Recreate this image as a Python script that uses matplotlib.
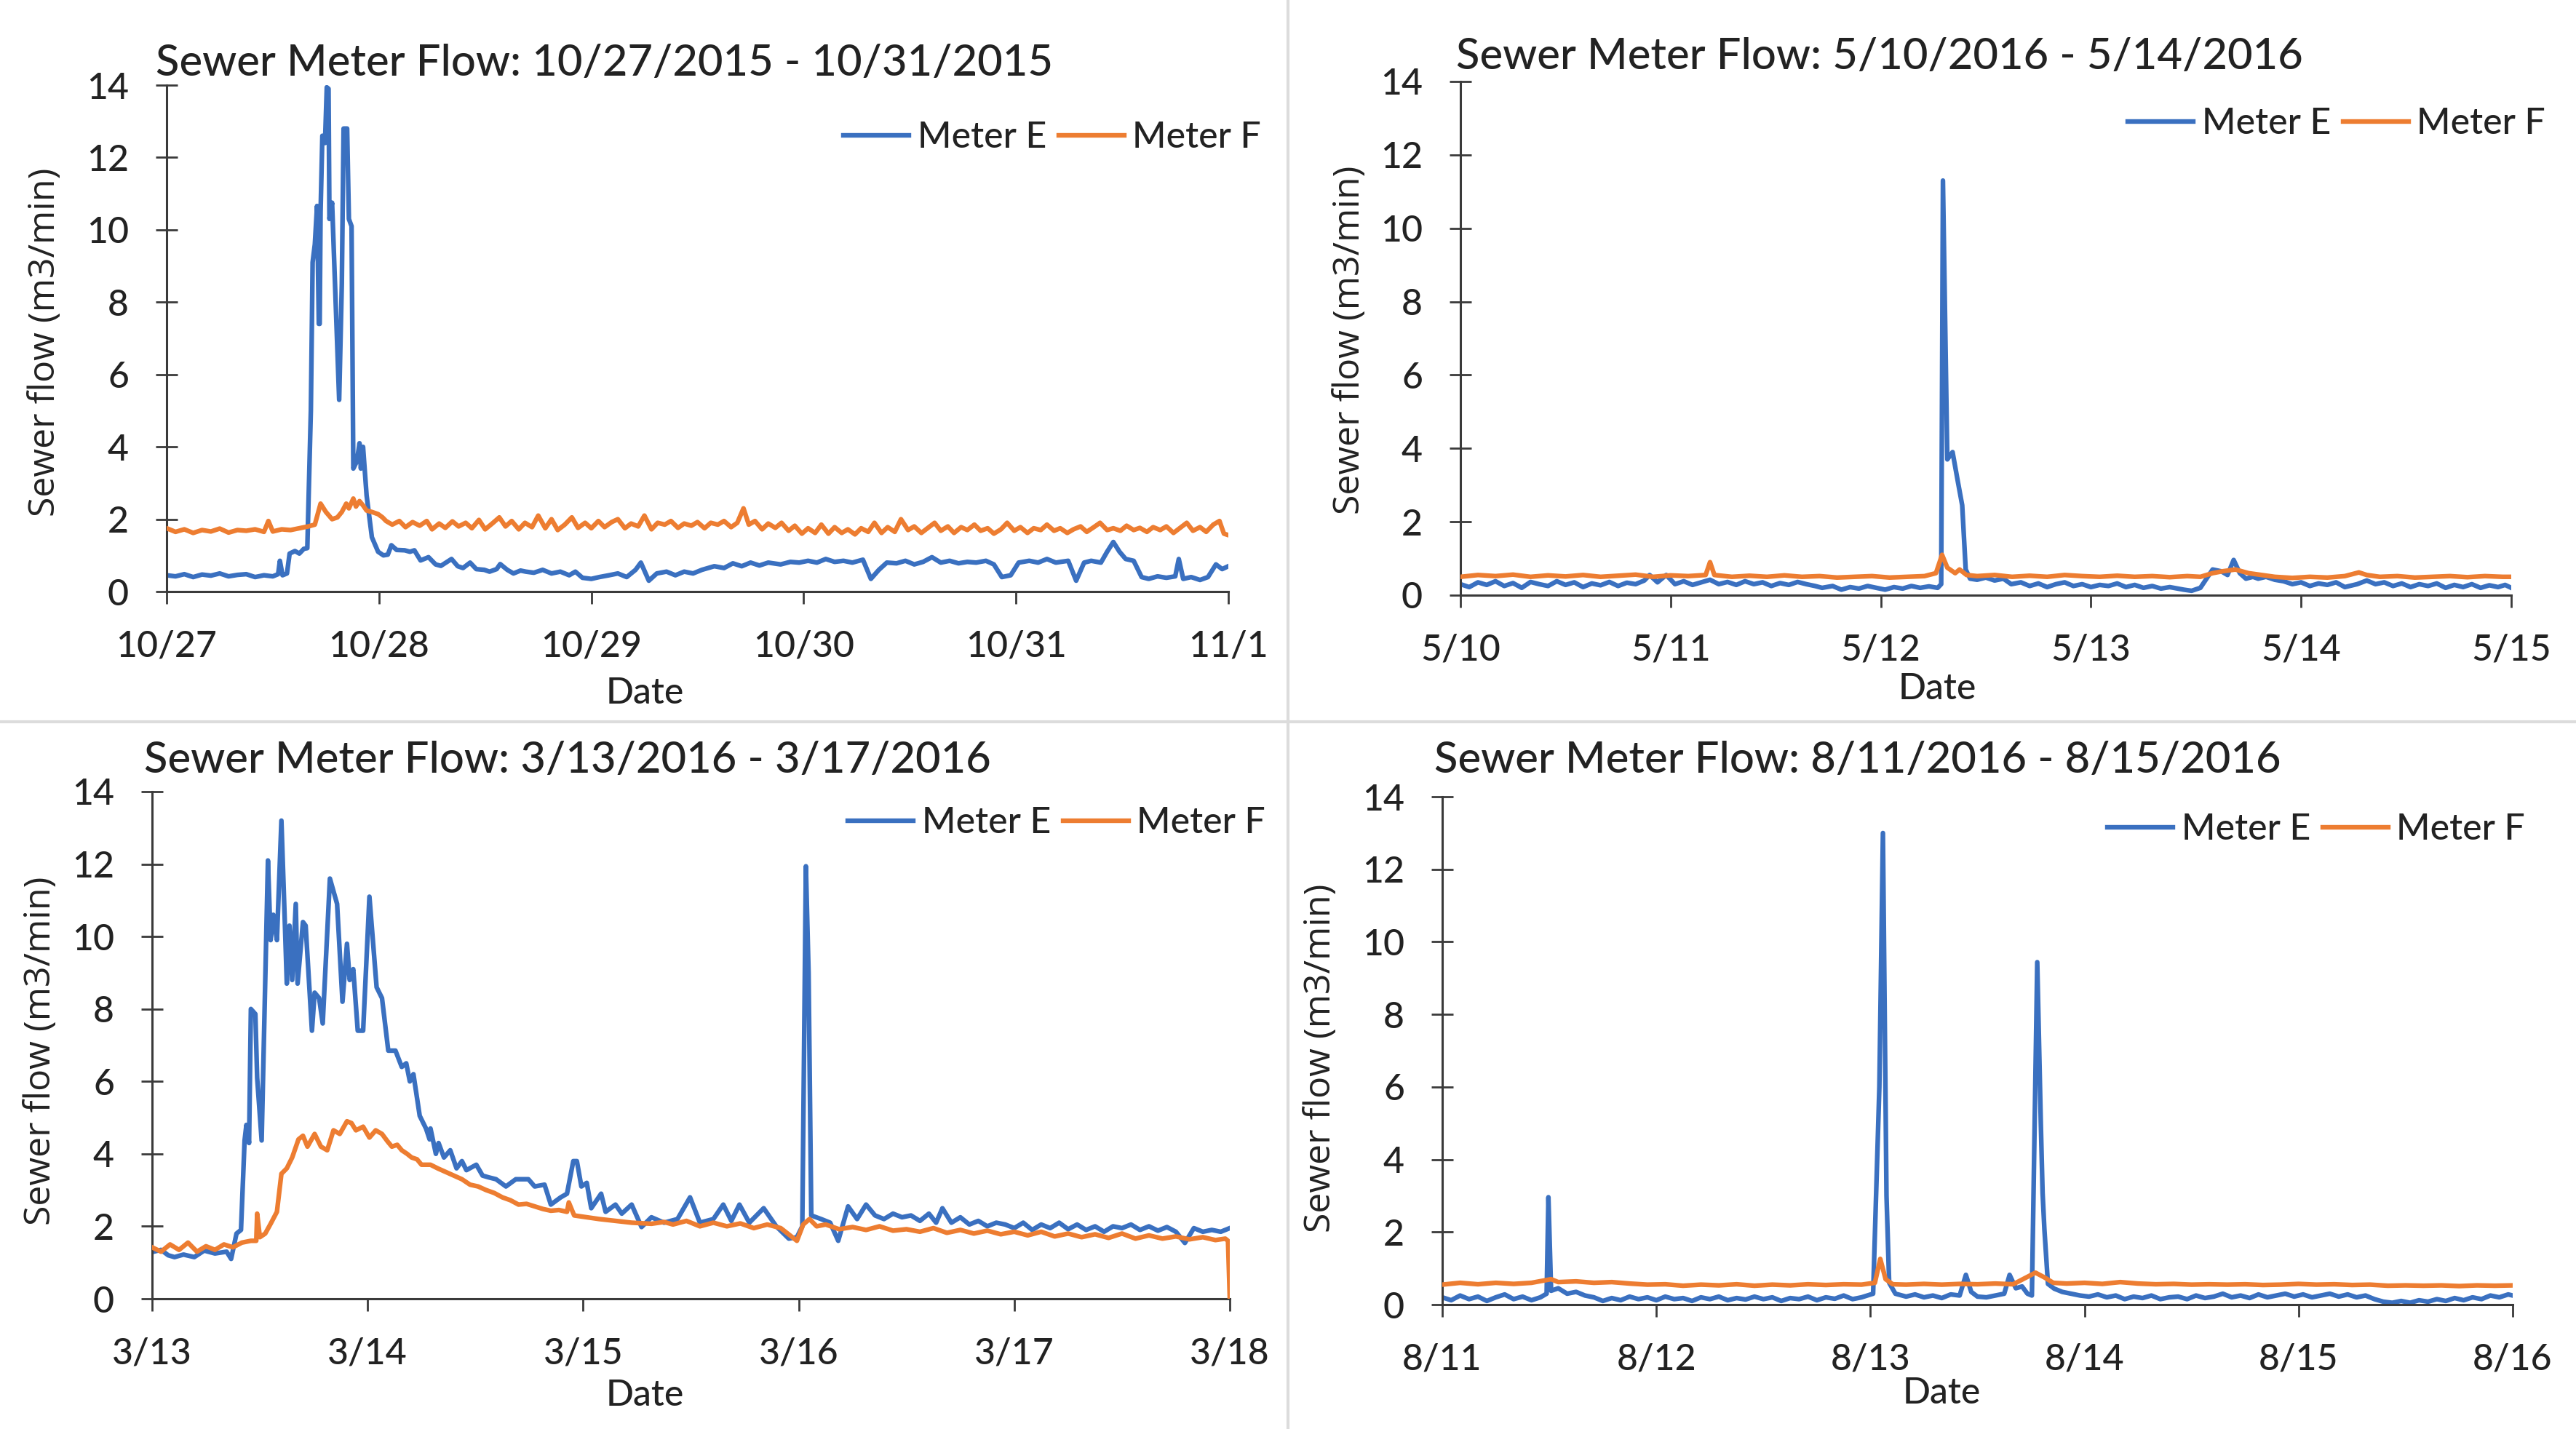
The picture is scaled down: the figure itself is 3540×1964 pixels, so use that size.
import matplotlib
matplotlib.use("Agg")
import matplotlib.pyplot as plt
from matplotlib.lines import Line2D

# ---------------- DATA (hours from start of window, flow m3/min) ----------------
titles = ["Sewer Meter Flow: 10/27/2015 - 10/31/2015",
          "Sewer Meter Flow: 5/10/2016 - 5/14/2016",
          "Sewer Meter Flow: 3/13/2016 - 3/17/2016",
          "Sewer Meter Flow: 8/11/2016 - 8/15/2016"]
xticklabels = [["10/27", "10/28", "10/29", "10/30", "10/31", "11/1"],
               ["5/10", "5/11", "5/12", "5/13", "5/14", "5/15"],
               ["3/13", "3/14", "3/15", "3/16", "3/17", "3/18"],
               ["8/11", "8/12", "8/13", "8/14", "8/15", "8/16"]]
xtick_hours = [0, 24, 48, 72, 96, 120]
yticks = [0, 2, 4, 6, 8, 10, 12, 14]
series_names = ["Meter E", "Meter F"]

# Panel 1: 10/27 - 10/31/2015
p1_t_e = [0, 1, 2, 3, 4, 5, 6, 7, 8, 9, 10, 11, 12, 12.6, 12.8, 13.1, 13.6, 13.9, 14.5, 15.0, 15.5, 15.9,
          16.3, 16.5, 16.75, 17.0, 17.2, 17.3, 17.4, 17.6, 17.9, 18.1, 18.3, 18.4, 18.7, 19.1, 19.5, 19.8,
          20.0, 20.4, 20.6, 20.9, 21.1, 21.5, 21.8, 21.95, 22.2, 22.6, 23.2, 23.9, 24.5, 25.0, 25.4, 26.0,
          26.9, 27.5, 28.0, 28.7, 29.6, 30.4, 31.0, 32.2, 32.9, 33.5, 34.3, 35.0, 35.9, 36.5, 37.3, 37.7,
          38.5, 39.2, 40.0, 40.6, 41.5, 42.5, 43.5, 44.5, 45.5, 46.2, 47.0, 48.0, 48.9, 50, 51, 52, 53,
          53.6, 54.5, 55.4, 56.5, 57.5, 58.5, 59.5, 60.5, 61.9, 63, 64, 65, 66, 67, 68, 69.4, 70.5, 71.5,
          72.5, 73.5, 74.5, 75.5, 76.5, 77.5, 78.7, 79.6, 80.5, 81.4, 82.5, 83.5, 84.5, 85.5, 86.5, 87.5,
          88.5, 89.5, 90.5, 91.5, 92.6, 93.5, 94.4, 95.4, 96.3, 97.5, 98.5, 99.5, 100.5, 101.9, 102.8,
          103.7, 104.5, 105.6, 106.3, 107.0, 107.7, 108.4, 109.3, 110.2, 111, 112, 113, 114.0, 114.4,
          114.9, 115.8, 116.8, 117.7, 118.6, 119.3, 120]
p1_e = [0.45, 0.42, 0.48, 0.40, 0.47, 0.44, 0.50, 0.42, 0.46, 0.48, 0.40, 0.45, 0.42, 0.48, 0.85, 0.45,
        0.50, 1.05, 1.12, 1.05, 1.18, 1.20, 5.0, 9.1, 9.6, 10.66, 7.4, 7.4, 10.5, 12.6, 12.4, 13.94, 13.9,
        10.3, 10.75, 8.0, 5.3, 8.5, 12.8, 12.8, 10.3, 10.1, 3.4, 3.6, 4.1, 3.4, 4.0, 2.66, 1.5, 1.1, 1.0,
        1.02, 1.28, 1.15, 1.14, 1.10, 1.14, 0.86, 0.95, 0.75, 0.71, 0.90, 0.70, 0.65, 0.80, 0.62, 0.60,
        0.55, 0.62, 0.76, 0.60, 0.50, 0.58, 0.55, 0.52, 0.60, 0.50, 0.55, 0.45, 0.55, 0.38, 0.35, 0.40,
        0.45, 0.50, 0.40, 0.60, 0.80, 0.30, 0.50, 0.55, 0.45, 0.55, 0.50, 0.60, 0.70, 0.65, 0.78, 0.70,
        0.80, 0.72, 0.80, 0.75, 0.82, 0.80, 0.85, 0.80, 0.90, 0.82, 0.85, 0.80, 0.88, 0.35, 0.60, 0.80,
        0.78, 0.85, 0.75, 0.82, 0.95, 0.80, 0.85, 0.78, 0.82, 0.80, 0.85, 0.75, 0.40, 0.45, 0.80, 0.85,
        0.80, 0.90, 0.80, 0.85, 0.30, 0.80, 0.85, 0.80, 1.10, 1.37, 1.10, 0.90, 0.85, 0.40, 0.35, 0.42,
        0.38, 0.42, 0.90, 0.35, 0.40, 0.32, 0.40, 0.75, 0.62, 0.70]
p1_t_f = [0, 1, 2, 3, 4, 5, 6, 7, 8, 9, 10, 11, 11.5, 12, 13, 14, 15, 16, 16.75, 17.4, 18, 18.7, 19.3,
          19.8, 20.3, 20.6, 21.1, 21.4, 21.8, 22.2, 22.6, 23.2, 23.9, 24.4, 24.8, 25.5, 26.3, 27, 27.8,
          28.6, 29.4, 30, 30.8, 31.5, 32.3, 33, 33.8, 34.5, 35.3, 36, 36.8, 37.6, 38.3, 39, 39.8, 40.5,
          41.3, 42, 42.8, 43.5, 44.2, 45, 45.8, 46.5, 47.3, 48, 48.8, 49.5, 50.3, 51, 51.8, 52.5, 53.3,
          54, 54.8, 55.5, 56.3, 57, 57.8, 58.5, 59.3, 60, 60.8, 61.5, 62.3, 63, 63.8, 64.5, 65.2, 65.8,
          66.5, 67.3, 68, 68.8, 69.5, 70.3, 71, 71.8, 72.5, 73.3, 74, 74.8, 75.5, 76.3, 77, 77.8, 78.5,
          79.3, 80, 80.8, 81.5, 82.3, 83, 83.8, 84.5, 85.3, 86, 86.8, 87.5, 88.3, 89, 89.8, 90.5, 91.3,
          92, 92.8, 93.5, 94.3, 95, 95.8, 96.5, 97.3, 98, 98.8, 99.5, 100.3, 101, 101.8, 102.5, 103.3,
          104, 104.8, 105.5, 106.3, 107, 107.8, 108.5, 109.3, 110, 110.8, 111.5, 112.3, 113, 113.8,
          114.5, 115.3, 116, 116.8, 117.5, 118.3, 119, 119.5, 120]
p1_f = [1.75, 1.65, 1.72, 1.62, 1.70, 1.66, 1.74, 1.63, 1.70, 1.68, 1.72, 1.65, 1.95, 1.66, 1.72, 1.70,
        1.75, 1.80, 1.85, 2.43, 2.20, 2.00, 2.05, 2.20, 2.43, 2.30, 2.57, 2.35, 2.50, 2.38, 2.24, 2.20,
        2.14, 2.05, 1.95, 1.85, 1.95, 1.78, 1.92, 1.82, 1.95, 1.72, 1.88, 1.76, 1.94, 1.80, 1.90, 1.75,
        1.98, 1.72, 1.88, 2.05, 1.80, 1.95, 1.72, 1.90, 1.78, 2.10, 1.75, 2.00, 1.70, 1.85, 2.05, 1.76,
        1.90, 1.75, 1.95, 1.78, 1.92, 2.00, 1.75, 1.88, 1.80, 2.10, 1.72, 1.90, 1.85, 1.95, 1.76, 1.88,
        1.82, 1.92, 1.75, 1.90, 1.85, 1.95, 1.78, 1.90, 2.30, 1.85, 1.95, 1.72, 1.88, 1.76, 1.90, 1.68,
        1.82, 1.60, 1.75, 1.62, 1.85, 1.60, 1.78, 1.62, 1.72, 1.58, 1.75, 1.65, 1.90, 1.62, 1.78, 1.65,
        2.00, 1.70, 1.80, 1.62, 1.75, 1.90, 1.68, 1.80, 1.62, 1.78, 1.70, 1.85, 1.68, 1.75, 1.60, 1.72,
        1.90, 1.68, 1.78, 1.62, 1.75, 1.70, 1.85, 1.68, 1.75, 1.62, 1.72, 1.80, 1.65, 1.78, 1.90, 1.70,
        1.75, 1.68, 1.82, 1.70, 1.76, 1.65, 1.78, 1.70, 1.80, 1.62, 1.75, 1.90, 1.68, 1.78, 1.65, 1.85,
        1.95, 1.60, 1.56]

# Panel 2: 5/10 - 5/14/2016
p2_t_e = [0, 1, 2, 3, 4, 5, 6, 7, 8, 9, 10, 11, 12, 13, 14, 15, 16, 17, 18, 19, 20, 21, 21.6, 22.5,
          23.5, 24.5, 25.5, 26.5, 27.5, 28.5, 29.5, 30.5, 31.5, 32.5, 33.5, 34.5, 35.5, 36.5, 37.5, 38.5,
          39.5, 40.5, 41.3, 42.5, 43.5, 44.5, 45.5, 46.5, 47.5, 48.5, 49.5, 50.5, 51.5, 52.5, 53.5, 54.5,
          54.9, 55.1, 55.6, 56.2, 56.8, 57.3, 57.7, 58.2, 59, 60, 61, 62, 62.9, 64, 65, 66, 67, 68, 69, 70,
          71, 72, 73, 74, 75, 76, 77, 78, 79, 80, 81, 82.6, 83.5, 84.5, 85.2, 85.9, 86.9, 87.6, 88.3, 89,
          89.7, 90.5, 91.1, 92, 93, 94, 95, 96, 97, 98, 99, 100, 101, 102.4, 103.5, 104.5, 105.5, 106.5,
          107.5, 108.5, 109.5, 110.5, 111.5, 112.5, 113.5, 114.5, 115.5, 116.5, 117.5, 118.5, 119.3, 120]
p2_e = [0.30, 0.22, 0.35, 0.28, 0.38, 0.25, 0.33, 0.20, 0.36, 0.30, 0.25, 0.38, 0.28, 0.35, 0.22, 0.32,
        0.27, 0.36, 0.25, 0.34, 0.30, 0.40, 0.55, 0.35, 0.55, 0.30, 0.38, 0.28, 0.35, 0.42, 0.30, 0.36,
        0.28, 0.38, 0.30, 0.35, 0.25, 0.33, 0.28, 0.36, 0.30, 0.25, 0.20, 0.25, 0.15, 0.22, 0.18, 0.25,
        0.20, 0.15, 0.22, 0.18, 0.25, 0.20, 0.24, 0.20, 0.30, 11.3, 3.7, 3.9, 3.1, 2.45, 0.70, 0.45, 0.42,
        0.48, 0.40, 0.45, 0.30, 0.35, 0.25, 0.32, 0.22, 0.30, 0.35, 0.25, 0.30, 0.22, 0.28, 0.25, 0.32,
        0.22, 0.28, 0.20, 0.25, 0.18, 0.22, 0.15, 0.12, 0.20, 0.45, 0.70, 0.65, 0.55, 0.96, 0.60, 0.45,
        0.50, 0.45, 0.50, 0.42, 0.38, 0.30, 0.35, 0.25, 0.32, 0.28, 0.35, 0.22, 0.30, 0.40, 0.30, 0.35,
        0.25, 0.32, 0.22, 0.30, 0.25, 0.32, 0.20, 0.28, 0.22, 0.30, 0.20, 0.27, 0.22, 0.28, 0.20]
p2_t_f = [0, 2, 4, 6, 8, 10, 12, 14, 16, 18, 20, 22, 24, 26, 28, 28.5, 29, 31, 33, 35, 37, 39, 41, 43,
          45, 47, 49, 51, 53, 54.3, 55.0, 55.6, 56.5, 57, 57.8, 59, 61, 63, 65, 67, 69, 71, 73, 75, 77,
          79, 81, 83, 84.5, 85.9, 87, 88.5, 90, 91.5, 93, 95, 97, 99, 101, 102.6, 103.5, 105, 107, 109,
          111, 113, 115, 117, 119, 120]
p2_f = [0.50, 0.55, 0.52, 0.56, 0.50, 0.54, 0.51, 0.55, 0.50, 0.53, 0.56, 0.50, 0.54, 0.52, 0.55, 0.90,
        0.55, 0.50, 0.53, 0.50, 0.54, 0.50, 0.52, 0.48, 0.50, 0.52, 0.48, 0.50, 0.52, 0.60, 1.10, 0.75,
        0.60, 0.70, 0.55, 0.52, 0.55, 0.50, 0.53, 0.50, 0.55, 0.52, 0.50, 0.53, 0.50, 0.52, 0.49, 0.52,
        0.50, 0.60, 0.65, 0.70, 0.60, 0.55, 0.50, 0.47, 0.50, 0.48, 0.52, 0.62, 0.55, 0.50, 0.52, 0.48,
        0.50, 0.52, 0.49, 0.52, 0.50, 0.50]

# Panel 3: 3/13 - 3/17/2016
p3_t_e = [0, 1, 1.8, 2.5, 3.5, 4.7, 5.8, 7, 8.3, 8.8, 9.4, 9.9, 10.3, 10.5, 10.8, 11.0, 11.5, 11.7, 12.2,
          12.9, 13.2, 13.5, 13.9, 14.4, 14.8, 15.0, 15.3, 15.6, 16.0, 16.2, 16.8, 17.1, 17.8, 18.1, 18.6,
          19.0, 19.8, 20.6, 21.2, 21.7, 22.0, 22.4, 22.9, 23.5, 24.2, 25.0, 25.6, 26.3, 27.1, 27.8, 28.3,
          28.7, 29.1, 29.8, 30.5, 30.9, 31.0, 31.6, 31.9, 32.5, 33.2, 33.9, 34.5, 35.0, 36.1, 36.8, 37.5,
          38.3, 39.4, 40.5, 41.9, 42.6, 43.7, 44.4, 45.5, 46.2, 46.9, 47.3, 47.8, 48.4, 48.9, 50.0, 50.5,
          51.6, 52.3, 53.4, 54.5, 55.6, 57, 58.5, 59.9, 61, 62.5, 63.6, 64.5, 65.4, 66.5, 68.1, 69.5,
          70.9, 71.8, 72.4, 72.8, 73.1, 73.4, 74.5, 75.5, 76.4, 77.5, 78.5, 79.5, 80.5, 81.5, 82.5, 83.5,
          84.5, 85.5, 86.5, 87.3, 88, 89, 90, 91, 92, 93, 94, 95, 96, 97, 98, 99, 100, 101, 102, 103,
          104, 105, 106, 107, 108, 109, 110, 111, 112, 113, 114, 115, 116, 117, 118, 119, 120]
p3_e = [1.29, 1.35, 1.20, 1.15, 1.22, 1.15, 1.33, 1.25, 1.30, 1.10, 1.80, 1.90, 4.37, 4.80, 4.30, 8.0,
        7.86, 6.1, 4.37, 12.1, 9.9, 10.6, 9.9, 13.2, 10.25, 8.7, 10.3, 8.8, 10.9, 8.7, 10.4, 10.3, 7.4,
        8.45, 8.3, 7.6, 11.6, 10.9, 8.2, 9.8, 8.8, 9.1, 7.4, 7.4, 11.1, 8.6, 8.3, 6.85, 6.85, 6.4, 6.5,
        6.0, 6.2, 5.05, 4.7, 4.4, 4.7, 4.0, 4.3, 3.9, 4.1, 3.6, 3.8, 3.55, 3.7, 3.4, 3.35, 3.3, 3.1, 3.3,
        3.3, 3.1, 3.15, 2.6, 2.8, 2.9, 3.8, 3.8, 3.1, 3.2, 2.5, 2.9, 2.4, 2.6, 2.35, 2.6, 1.98, 2.25, 2.1,
        2.2, 2.8, 2.1, 2.2, 2.6, 2.15, 2.6, 2.1, 2.5, 2.0, 1.66, 1.7, 2.0, 11.94, 9.0, 2.3, 2.2, 2.1,
        1.6, 2.55, 2.2, 2.6, 2.3, 2.2, 2.35, 2.25, 2.3, 2.15, 2.35, 2.1, 2.5, 2.1, 2.25, 2.05, 2.15, 2.0,
        2.1, 2.05, 1.95, 2.1, 1.9, 2.05, 1.95, 2.1, 1.92, 2.05, 1.9, 2.0, 1.85, 2.0, 1.95, 2.05, 1.9,
        2.0, 1.88, 1.98, 1.85, 1.54, 1.95, 1.85, 1.9, 1.85, 1.95]
p3_t_f = [0, 1, 2, 3, 4, 5, 6, 7, 8, 9, 10, 11, 11.6, 11.7, 12, 12.6, 13.2, 13.9, 14.4, 15.0, 15.6, 16.3,
          16.8, 17.3, 18.1, 18.8, 19.5, 20.2, 20.9, 21.7, 22.2, 22.7, 23.5, 24.2, 24.9, 25.6, 26.2, 26.7,
          27.3, 27.8, 28.4, 28.9, 29.5, 30.0, 31.0, 31.8, 32.7, 33.6, 34.5, 35.4, 36.3, 37.2, 38.1, 39.0,
          39.9, 40.8, 41.7, 42.6, 43.5, 44.4, 45.3, 46.2, 46.4, 47, 48.4, 49.8, 51.6, 53.4, 55.6, 57,
          58, 59.5, 61, 62.5, 64, 65.5, 67, 68.5, 70, 71.8, 72.5, 73.2, 74, 75, 76.5, 78, 79.5, 81, 82.5,
          84, 85.5, 87, 88.5, 90, 91.5, 93, 94.5, 96, 97.5, 99, 100.5, 102, 103.5, 105, 106.5, 108, 109.5,
          111, 112.5, 114, 115.5, 117, 118.4, 119.5, 119.8, 120]
p3_f = [1.42, 1.30, 1.50, 1.35, 1.55, 1.30, 1.45, 1.35, 1.50, 1.42, 1.55, 1.60, 1.60, 2.35, 1.70, 1.80,
        2.07, 2.40, 3.45, 3.60, 3.90, 4.40, 4.50, 4.20, 4.55, 4.20, 4.10, 4.65, 4.55, 4.90, 4.85, 4.65,
        4.75, 4.45, 4.65, 4.55, 4.35, 4.20, 4.25, 4.10, 4.00, 3.90, 3.85, 3.70, 3.70, 3.60, 3.50, 3.40,
        3.30, 3.15, 3.10, 3.00, 2.92, 2.80, 2.72, 2.60, 2.62, 2.55, 2.48, 2.43, 2.45, 2.40, 2.66, 2.30,
        2.25, 2.20, 2.15, 2.10, 2.07, 2.12, 2.05, 2.15, 2.00, 2.10, 2.00, 2.08, 1.95, 2.05, 1.95, 1.60,
        2.05, 2.20, 2.00, 2.05, 1.92, 1.98, 1.90, 2.00, 1.88, 1.92, 1.85, 1.95, 1.82, 1.90, 1.80, 1.88,
        1.78, 1.85, 1.75, 1.85, 1.72, 1.80, 1.70, 1.78, 1.68, 1.80, 1.66, 1.75, 1.66, 1.72, 1.64, 1.70,
        1.62, 1.66, 1.60, 0.0]

# Panel 4: 8/11 - 8/15/2016
p4_t_e = [0, 1, 2, 3, 4, 5, 6, 7, 8, 9, 10, 11, 11.7, 11.9, 12.2, 13, 14, 15, 16, 17, 18, 19, 20, 21,
          22, 23, 24, 25, 26, 27, 28, 29, 30, 31, 32, 33, 34, 35, 36, 37, 38, 39, 40, 41, 42, 43, 44,
          45, 46, 47, 48.3, 49.0, 49.4, 49.8, 50.1, 50.8, 52, 53, 54, 55, 56, 57, 58, 58.7, 59.3, 60,
          61, 62, 63, 63.6, 64.3, 65, 65.6, 66.1, 66.7, 67.1, 67.3, 67.5, 67.9, 68.6, 69.5, 70.5, 71.5,
          72.5, 73.5, 74.5, 75.5, 76.5, 77.5, 78.5, 79.5, 80.5, 81.5, 82.5, 83.5, 84.5, 85.5, 86.5, 87.5,
          88.5, 89.5, 90.5, 91.5, 92.5, 93.5, 94.5, 95.5, 96.5, 97.5, 98.5, 99.5, 100.5, 101.5, 102.5,
          103.5, 104.5, 105.5, 106.5, 107.5, 108.5, 109.5, 110.5, 111.5, 112.5, 113.5, 114.5, 115.5,
          116.5, 117.5, 118.5, 119.5, 120]
p4_e = [0.20, 0.12, 0.25, 0.15, 0.22, 0.10, 0.20, 0.28, 0.15, 0.22, 0.12, 0.20, 0.30, 2.96, 0.38, 0.45,
        0.30, 0.35, 0.25, 0.20, 0.10, 0.18, 0.12, 0.22, 0.15, 0.20, 0.12, 0.22, 0.15, 0.18, 0.10, 0.20,
        0.15, 0.22, 0.12, 0.18, 0.14, 0.22, 0.15, 0.20, 0.10, 0.18, 0.15, 0.22, 0.12, 0.20, 0.16, 0.25,
        0.15, 0.20, 0.30, 6.0, 13.0, 3.0, 0.60, 0.30, 0.22, 0.28, 0.20, 0.25, 0.18, 0.28, 0.25, 0.82,
        0.35, 0.22, 0.20, 0.25, 0.30, 0.82, 0.45, 0.50, 0.30, 0.25, 9.44, 5.0, 3.08, 2.08, 0.57, 0.44,
        0.35, 0.30, 0.25, 0.22, 0.28, 0.20, 0.25, 0.15, 0.22, 0.18, 0.25, 0.15, 0.20, 0.22, 0.15, 0.25,
        0.18, 0.22, 0.30, 0.20, 0.25, 0.18, 0.28, 0.20, 0.25, 0.30, 0.22, 0.28, 0.20, 0.25, 0.30, 0.22,
        0.28, 0.20, 0.25, 0.15, 0.08, 0.05, 0.10, 0.05, 0.12, 0.08, 0.15, 0.10, 0.18, 0.12, 0.20, 0.15,
        0.25, 0.20, 0.28, 0.25]
p4_t_f = [0, 2, 4, 6, 8, 10, 12.2, 13, 15, 17, 19, 21, 23, 25, 27, 29, 31, 33, 35, 37, 39, 41, 43, 45,
          47, 48.5, 49.1, 49.7, 50.5, 52, 54, 56, 58, 60, 62, 64, 66.5, 67.5, 68.5, 70, 72, 74, 76, 78,
          80, 82, 84, 86, 88, 90, 92, 94, 96, 98, 100, 102, 104, 106, 108, 110, 112, 114, 116, 118, 120]
p4_f = [0.55, 0.60, 0.56, 0.60, 0.57, 0.60, 0.70, 0.62, 0.64, 0.60, 0.62, 0.58, 0.55, 0.56, 0.52, 0.55,
        0.53, 0.56, 0.52, 0.55, 0.53, 0.56, 0.54, 0.56, 0.55, 0.60, 1.26, 0.70, 0.56, 0.55, 0.57, 0.55,
        0.57, 0.56, 0.58, 0.56, 0.88, 0.75, 0.60, 0.58, 0.60, 0.57, 0.62, 0.58, 0.56, 0.57, 0.55, 0.56,
        0.55, 0.56, 0.54, 0.55, 0.57, 0.55, 0.56, 0.54, 0.55, 0.52, 0.53, 0.52, 0.53, 0.51, 0.53, 0.52,
        0.53]

# ---------------- STYLE / LAYOUT ----------------
W, H = 3541, 1964
DPI = 100
BLUE = "#3A70C0"
ORANGE = "#ED7D31"
TXT = "#222222"
AXC = "#3A3A3A"
NARROW = ["Lato", "DejaVu Sans"]
WIDE = ["Open Sans", "DejaVu Sans"]
LW = 4.6

def fx(px):
    return px / W

def fy(py):
    return 1 - py / H

# axes rectangles in pixels: (left, right, y_of_0, y_of_14)
axes_px = [(229, 1688, 813, 117), (2007, 3451, 818, 112),
           (209, 1690, 1785, 1088), (1982, 3453, 1793, 1095)]
title_px = [(214, 104), (2001, 95), (198, 1062), (1971, 1062)]
legend_px = [(1733, 189), (3498, 170), (1739, 1131), (3470, 1140)]
ylabel_px = [(62, 470), (1855, 467), (56, 1444), (1815, 1454)]
date_px = [(886, 953), (2662, 947), (886, 1918), (2668, 1915)]

data = [(p1_t_e, p1_e, p1_t_f, p1_f), (p2_t_e, p2_e, p2_t_f, p2_f),
        (p3_t_e, p3_e, p3_t_f, p3_f), (p4_t_e, p4_e, p4_t_f, p4_f)]

fig = plt.figure(figsize=(W / DPI, H / DPI), dpi=DPI)
fig.patch.set_facecolor("white")

for i in range(4):
    l, r, y0, y14 = axes_px[i]
    ax = fig.add_axes([fx(l), fy(y0), (r - l) / W, (y0 - y14) / H])
    te, e, tf, f = data[i]
    le, = ax.plot(te, e, color=BLUE, lw=LW, solid_joinstyle="round", label=series_names[0], zorder=2)
    lf, = ax.plot(tf, f, color=ORANGE, lw=LW, solid_joinstyle="round", label=series_names[1], zorder=3)
    ax.set_xlim(0, 120)
    ax.set_ylim(0, 14)
    for s in ["top", "right"]:
        ax.spines[s].set_visible(False)
    for s in ["left", "bottom"]:
        ax.spines[s].set_color(AXC)
        ax.spines[s].set_linewidth(2.2)
    ax.set_xticks(xtick_hours)
    ax.set_xticklabels(xticklabels[i])
    ax.set_yticks(yticks)
    ax.set_yticklabels([str(v) for v in yticks])
    ax.tick_params(axis="x", direction="out", length=12, width=2.0, color=AXC, pad=26,
                   labelsize=36, labelcolor=TXT)
    ax.tick_params(axis="y", direction="inout", length=21, width=2.0, color=AXC, pad=27,
                   labelsize=36, labelcolor=TXT)
    for lab in ax.get_xticklabels() + ax.get_yticklabels():
        lab.set_family(NARROW)
        lab.set_fontweight("medium")
    ax.patch.set_alpha(0)

    tx, ty = title_px[i]
    fig.text(fx(tx), fy(ty), titles[i], ha="left", va="baseline", fontsize=43,
             family=NARROW, fontweight="medium", color=TXT)
    lx, ly = legend_px[i]
    ax.legend(handles=[le, lf], loc="center right", bbox_to_anchor=(fx(lx), fy(ly)),
              bbox_transform=fig.transFigure, ncol=2, frameon=False, borderpad=0,
              borderaxespad=0, handlelength=1.8, handletextpad=0.23, columnspacing=0.33,
              prop={"family": NARROW, "size": 36, "weight": "medium"}, labelcolor=TXT)
    yx, yy = ylabel_px[i]
    fig.text(fx(yx), fy(yy), "Sewer flow (m3/min)", rotation=90, ha="center", va="center",
             fontsize=36, family=WIDE, color=TXT)
    dx, dy = date_px[i]
    fig.text(fx(dx), fy(dy), "Date", ha="center", va="center", fontsize=36,
             family=NARROW, fontweight="medium", color=TXT)

# panel separators
fig.add_artist(Line2D([fx(1770), fx(1770)], [0, 1], transform=fig.transFigure,
                      color="#DCDCDC", lw=3))
fig.add_artist(Line2D([0, 1], [fy(992), fy(992)], transform=fig.transFigure,
                      color="#DCDCDC", lw=3))

fig.savefig("out.png", dpi=DPI, facecolor="white")
